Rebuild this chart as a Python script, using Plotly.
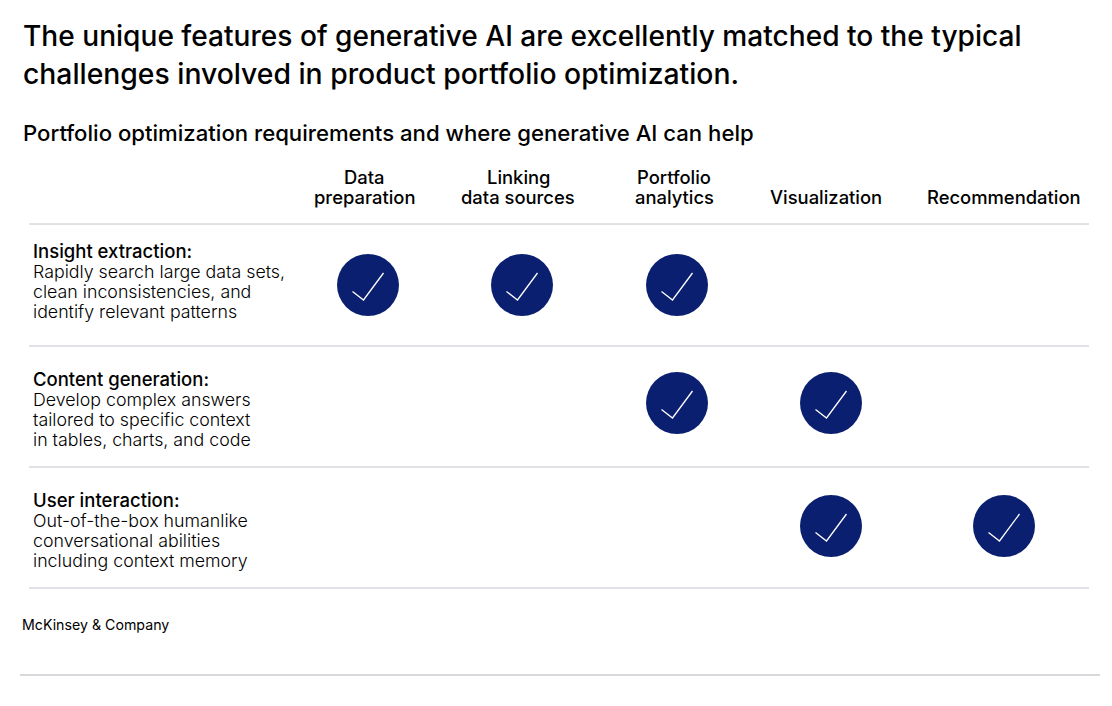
import plotly.graph_objects as go

FONT = "Inter"
INK = "#000000"
NAVY = "#0b1f70"
RULE = "#c0c4cc"

title_lines = [
    "The unique features of generative AI are excellently matched to the typical",
    "challenges involved in product portfolio optimization.",
]
subtitle = "Portfolio optimization requirements and where generative AI can help"
source = "McKinsey & Company"

columns = [
    ["Data", "preparation"],
    ["Linking", "data sources"],
    ["Portfolio", "analytics"],
    ["Visualization"],
    ["Recommendation"],
]
row_heads = ["Insight extraction:", "Content generation:", "User interaction:"]
row_body = [
    ["Rapidly search large data sets,", "clean inconsistencies, and", "identify relevant patterns"],
    ["Develop complex answers", "tailored to specific context", "in tables, charts, and code"],
    ["Out-of-the-box humanlike", "conversational abilities", "including context memory"],
]
# which columns each row ticks
checked = [
    [1, 1, 1, 0, 0],
    [0, 0, 1, 1, 0],
    [0, 0, 0, 1, 1],
]

# layout, axes are set up as page pixels
col_x = [368, 522, 677, 831, 1004]
col_label_x = [364, 518, 674, 826, 1004]
row_y = [285, 403, 526]
row_text_y = [250.5, 378.5, 499.5]
rule_y = [224, 346, 467, 588]
tick_shape = [(-15.5, 6.5), (-4.5, 15), (15.5, -12)]

fig = go.Figure()


def text(x, y, s, size, weight=400, anchor="left"):
    fig.add_annotation(
        x=x, y=y, text=s, showarrow=False, xanchor=anchor, yanchor="middle",
        font=dict(family=FONT, size=size, color=INK, weight=weight),
    )


for y in rule_y:
    fig.add_shape(type="line", x0=29, x1=1089, y0=y, y1=y, line=dict(color=RULE, width=1))
fig.add_shape(type="line", x0=20, x1=1100, y0=675, y1=675, line=dict(color="#aeb2b8", width=1))

xs, ys, tx, ty = [], [], [], []
for r, flags in enumerate(checked):
    for c, flag in enumerate(flags):
        if flag:
            xs.append(col_x[c])
            ys.append(row_y[r])
            tx += [col_x[c] + dx for dx, _ in tick_shape] + [None]
            ty += [row_y[r] + dy for _, dy in tick_shape] + [None]

fig.add_trace(go.Scatter(x=xs, y=ys, mode="markers", marker=dict(size=62, color=NAVY, line=dict(width=0))))
fig.add_trace(go.Scatter(x=tx, y=ty, mode="lines", line=dict(color="white", width=1.3)))

text(21, 36, title_lines[0], 28.1, 500)
text(21, 74, title_lines[1], 28.3, 500)
text(21, 133, subtitle, 22.15, 500)

for c, label in enumerate(columns):
    ypos = [177, 197] if len(label) == 2 else [197]
    for y, s in zip(ypos, label):
        text(col_label_x[c], y, s, 18.4, 500, "center")

for r, head in enumerate(row_heads):
    text(31, row_text_y[r], head, 18.5, 500)
    for i, line in enumerate(row_body[r]):
        text(31, row_text_y[r] + 0.5 + 20 * (i + 1), line, 17.8, 300)

text(20, 624.5, source, 14.2, 400)

fig.update_layout(
    width=1112, height=706, margin=dict(l=0, r=0, t=0, b=0),
    plot_bgcolor="white", paper_bgcolor="white", showlegend=False,
    xaxis=dict(range=[0, 1112], visible=False, fixedrange=True),
    yaxis=dict(range=[706, 0], visible=False, fixedrange=True),
)
fig.write_html("out.html", config={"displayModeBar": False},
               post_script="document.body.style.margin='0';document.body.style.overflow='hidden';")
